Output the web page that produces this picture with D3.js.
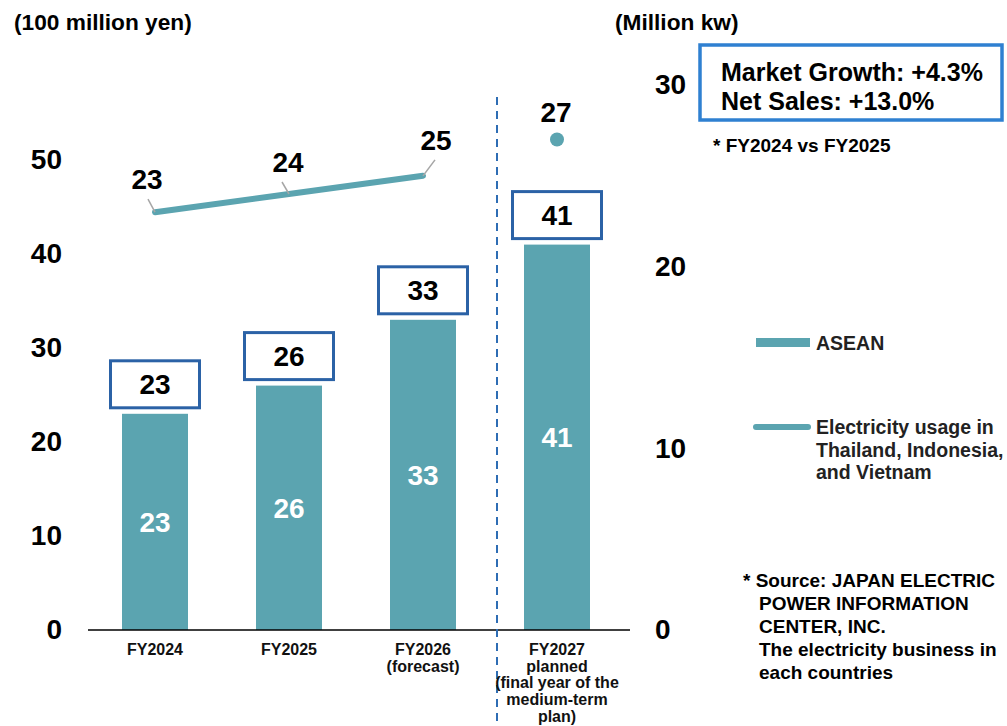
<!DOCTYPE html>
<html>
<head>
<meta charset="utf-8">
<script src="https://cdn.jsdelivr.net/npm/d3@7"></script>
<style>
  html, body { margin: 0; padding: 0; background: #fff; }
  svg { display: block; font-family: "Liberation Sans", Arial, sans-serif; font-weight: bold; }
</style>
</head>
<body>
<svg id="chart" width="1007" height="726"></svg>
<script>
// Fiscal-year categories and their axis labels (multi-line)
const categories = ["FY2024", "FY2025", "FY2026", "FY2027"];
const categoryLabels = [
  ["FY2024"],
  ["FY2025"],
  ["FY2026", "(forecast)"],
  ["FY2027", "planned", "(final year of the", "medium-term", "plan)"]
];
// Net sales, ASEAN (100 million yen)
const salesValues = [23, 26, 33, 41];
// Electricity usage in Thailand, Indonesia and Vietnam (million kW)
const usageValues = [23, 24, 25, 27];
// Axis ticks
const leftTicks = [0, 10, 20, 30, 40, 50];
const rightTicks = [0, 10, 20, 30];

const barColor = "#5ba4b0";
const boxColor = "#2b62a6";
const numSize = 28;

const svg = d3.select("#chart");

const x = d3.scaleBand().domain(categories).range([88, 624]).paddingInner(0.5).paddingOuter(0.25);
const yL = d3.scaleLinear().domain([0, 50]).range([630, 160]);
const yR = d3.scaleLinear().domain([0, 30]).range([630, 85]);
const cx = c => x(c) + x.bandwidth() / 2;

// Unit titles
svg.append("text").attr("x", 14).attr("y", 30).attr("font-size", 22.7).text("(100 million yen)");
svg.append("text").attr("x", 615).attr("y", 30).attr("font-size", 22.7).text("(Million kw)");

// Left axis (labels only)
const leftAxis = svg.append("g").attr("transform", "translate(62,0)")
  .call(d3.axisLeft(yL).tickValues(leftTicks).tickSize(0).tickPadding(0));
leftAxis.select(".domain").remove();
leftAxis.selectAll("text").attr("font-size", numSize).attr("font-family", "Liberation Sans, Arial, sans-serif")
  .attr("font-weight", "bold").attr("fill", "#000");

// Right axis (labels only)
const rightAxis = svg.append("g").attr("transform", "translate(655,0)")
  .call(d3.axisRight(yR).tickValues(rightTicks).tickSize(0).tickPadding(0));
rightAxis.select(".domain").remove();
rightAxis.selectAll("text").attr("font-size", numSize).attr("font-family", "Liberation Sans, Arial, sans-serif")
  .attr("font-weight", "bold").attr("fill", "#000");

// Bars
const barW = 66;
svg.append("g").selectAll("rect").data(salesValues).join("rect")
  .attr("x", (d, i) => cx(categories[i]) - barW / 2)
  .attr("y", d => yL(d))
  .attr("width", barW)
  .attr("height", d => yL(0) - yL(d))
  .attr("fill", barColor);

// Values inside bars
svg.append("g").selectAll("text").data(salesValues).join("text")
  .attr("x", (d, i) => cx(categories[i]))
  .attr("y", d => (yL(d) + yL(0)) / 2 + 10)
  .attr("text-anchor", "middle").attr("font-size", numSize).attr("fill", "#fff")
  .text(d => d);

// Boxed value labels above bars
const boxW = 89, boxH = 47;
const boxes = svg.append("g").selectAll("g").data(salesValues).join("g")
  .attr("transform", (d, i) => `translate(${cx(categories[i]) - boxW / 2},${yL(d) - 6 - boxH})`);
boxes.append("rect").attr("width", boxW).attr("height", boxH)
  .attr("fill", "#fff").attr("stroke", boxColor).attr("stroke-width", 3);
boxes.append("text").attr("x", boxW / 2).attr("y", boxH / 2 + 10)
  .attr("text-anchor", "middle").attr("font-size", numSize).attr("fill", "#000").text(d => d);

// Baseline
svg.append("line").attr("x1", 88).attr("x2", 630).attr("y1", yL(0)).attr("y2", yL(0))
  .attr("stroke", "#000").attr("stroke-width", 1.5);

// Divider between actual/forecast and plan
const divX = x(categories[3]) - (x.step() - x.bandwidth()) / 2 + 7;
svg.append("line").attr("x1", divX).attr("x2", divX).attr("y1", 97).attr("y2", 726)
  .attr("stroke", "#2e6db4").attr("stroke-width", 2).attr("stroke-dasharray", "8,6");

// Electricity usage line (first three years) and planned point
const lineData = usageValues.slice(0, 3).map((v, i) => [cx(categories[i]), yR(v)]);
svg.append("path").attr("d", d3.line()(lineData))
  .attr("fill", "none").attr("stroke", barColor).attr("stroke-width", 6).attr("stroke-linecap", "round");
svg.append("circle").attr("cx", cx(categories[3])).attr("cy", yR(usageValues[3])).attr("r", 7).attr("fill", barColor);

// Usage labels with leader lines: [label dx, baseline dy, leader dx, leader dy]
const usageLabelOffsets = [[-8, -23, -7, -13], [-1, -22, -7, -12], [13, -26, 12, -16], [-1, -18, null, null]];
usageValues.forEach((v, i) => {
  const px = cx(categories[i]), py = yR(v);
  const o = usageLabelOffsets[i];
  if (o[2] !== null) {
    svg.append("line").attr("x1", px).attr("y1", py).attr("x2", px + o[2]).attr("y2", py + o[3])
      .attr("stroke", "#a6a6a6").attr("stroke-width", 1.5);
  }
  svg.append("text").attr("x", px + o[0]).attr("y", py + o[1])
    .attr("text-anchor", "middle").attr("font-size", numSize).attr("fill", "#000").text(v);
});

// Category labels
const catG = svg.append("g").selectAll("text").data(categoryLabels).join("text")
  .attr("text-anchor", "middle").attr("font-size", 16).attr("fill", "#111");
catG.each(function(lines, i) {
  d3.select(this).selectAll("tspan").data(lines).join("tspan")
    .attr("x", cx(categories[i])).attr("y", (d, j) => 655 + j * 16.7).text(d => d);
});

// Growth summary box
svg.append("rect").attr("x", 700).attr("y", 45).attr("width", 302).attr("height", 75)
  .attr("fill", "#fff").attr("stroke", "#2f80d1").attr("stroke-width", 3.5);
svg.append("text").attr("x", 721).attr("y", 81).attr("font-size", 25).text("Market Growth: +4.3%");
svg.append("text").attr("x", 721).attr("y", 110).attr("font-size", 25).text("Net Sales: +13.0%");
svg.append("text").attr("x", 713).attr("y", 152).attr("font-size", 19).text("* FY2024 vs FY2025");

// Legend
svg.append("rect").attr("x", 756).attr("y", 338).attr("width", 54).attr("height", 9).attr("fill", barColor);
svg.append("text").attr("x", 816).attr("y", 350).attr("font-size", 19.5).attr("fill", "#222").text("ASEAN");
svg.append("line").attr("x1", 756).attr("x2", 808).attr("y1", 427).attr("y2", 427)
  .attr("stroke", barColor).attr("stroke-width", 6).attr("stroke-linecap", "round");
const legText = svg.append("text").attr("font-size", 19.5).attr("fill", "#222");
["Electricity usage in", "Thailand, Indonesia,", "and Vietnam"].forEach((t, j) => {
  legText.append("tspan").attr("x", 816).attr("y", 434 + j * 22.5).text(t);
});

// Source note
const note = svg.append("text").attr("font-size", 19).attr("fill", "#000");
[["* Source: JAPAN ELECTRIC", 743], ["POWER INFORMATION", 759], ["CENTER, INC.", 759],
 ["The electricity business in", 759], ["each countries", 759]].forEach((d, j) => {
  note.append("tspan").attr("x", d[1]).attr("y", 587 + j * 23).text(d[0]);
});
</script>
</body>
</html>
